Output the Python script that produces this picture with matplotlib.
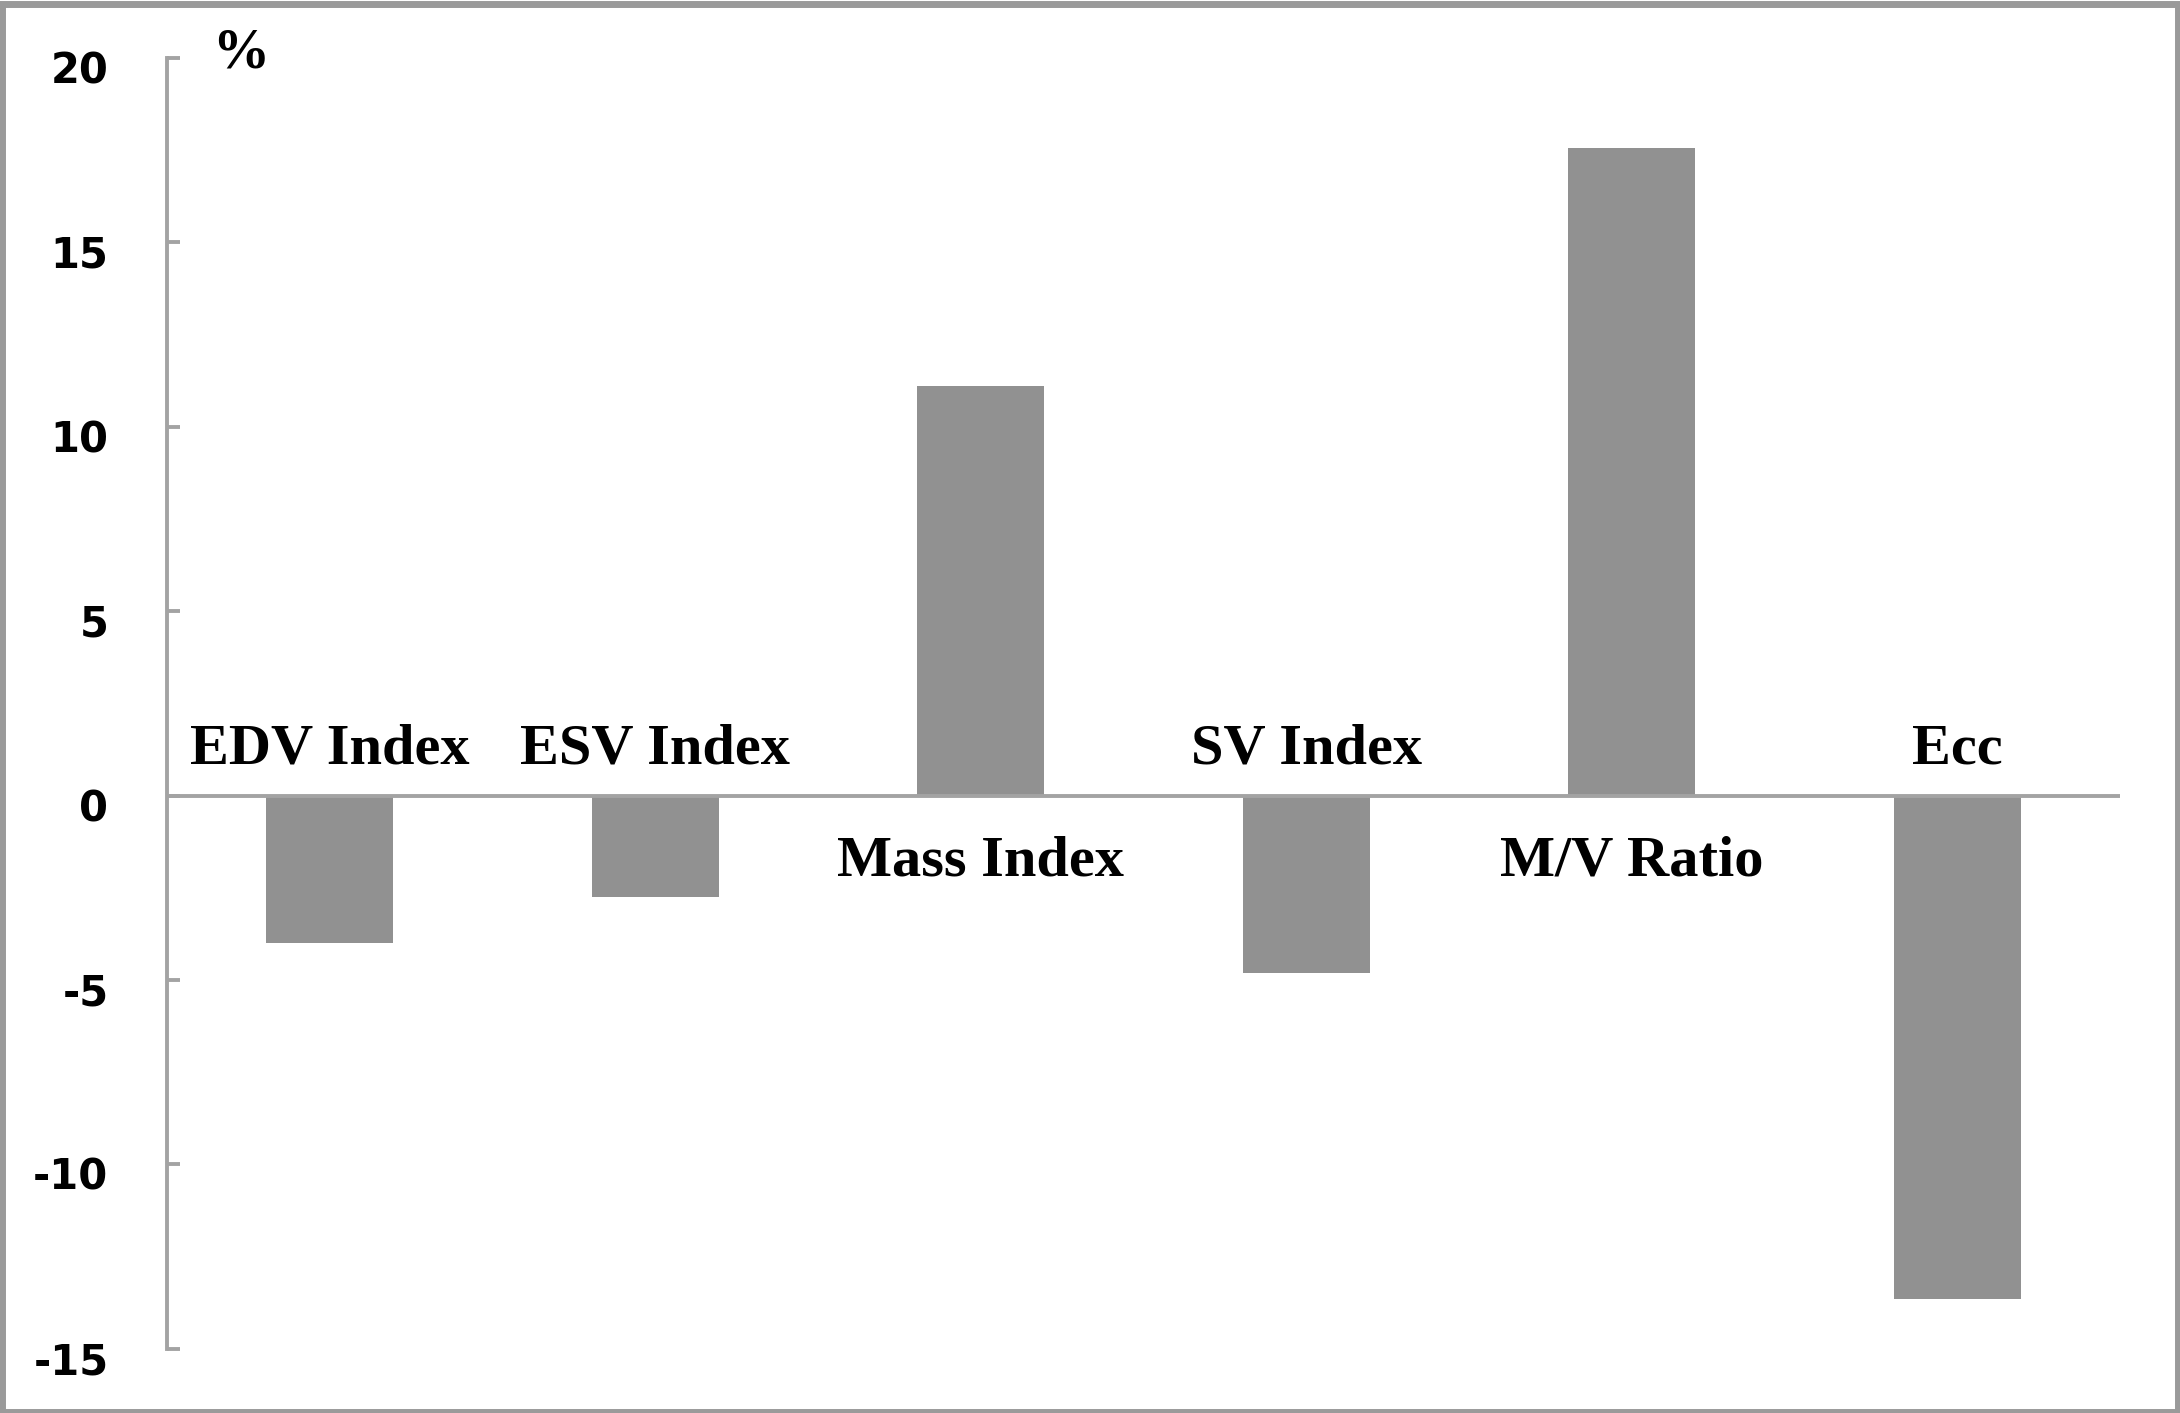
import matplotlib
matplotlib.use("Agg")
import matplotlib.pyplot as plt
from matplotlib.patches import Rectangle
from matplotlib.transforms import ScaledTranslation

# data
categories = ["EDV Index", "ESV Index", "Mass Index", "SV Index", "M/V Ratio", "Ecc"]
values = [-4.0, -2.75, 11.1, -4.8, 17.55, -13.65]
y_ticks = [-15, -10, -5, 0, 5, 10, 15, 20]

BAR_COLOR = "#919191"
AXIS_COLOR = "#a3a3a3"
LABEL_FONT = "Liberation Serif"

fig = plt.figure(figsize=(21.8, 14.13), dpi=100)
ax = fig.add_axes([0.0765, 0.0455, 0.896, 0.9135])

x = list(range(len(categories)))
ax.bar(x, values, width=0.39, color=BAR_COLOR, zorder=2)
ax.axhline(0, color=AXIS_COLOR, lw=2.8, zorder=3)

# category names sit on the opposite side of the zero line from the bar
for i, (name, v) in enumerate(zip(categories, values)):
    y = 0.87 if v < 0 else -2.18
    ax.text(i, y, name, ha="center", va="baseline", fontsize=42,
            fontweight="bold", family=LABEL_FONT, color="black")

ax.set_xlim(-0.5, 5.5)
ax.set_ylim(-15, 20)
ax.set_xticks([])
ax.set_yticks(y_ticks)
ax.set_yticklabels([str(t) for t in y_ticks])

for side in ["top", "right", "bottom"]:
    ax.spines[side].set_visible(False)
ax.spines["left"].set_color(AXIS_COLOR)
ax.spines["left"].set_linewidth(2.8)
ax.tick_params(axis="y", direction="in", length=9, width=2.8, color=AXIS_COLOR,
               pad=42, labelsize=30)
offset = ScaledTranslation(0, -9 / 100, fig.dpi_scale_trans)
for lab in ax.get_yticklabels():
    lab.set_fontweight("bold")
    lab.set_transform(lab.get_transform() + offset)

# unit label next to the top of the y axis
ax.text(-0.36, 19.75, "%", fontsize=41, fontweight="bold",
        family=LABEL_FONT, ha="left", va="baseline")

# grey frame around the whole picture
fig.patches.append(Rectangle((0.001, 0.001), 0.998, 0.996, transform=fig.transFigure,
                             fill=False, edgecolor="#9a9a9a", lw=5))

fig.savefig("out.png", dpi=100)
